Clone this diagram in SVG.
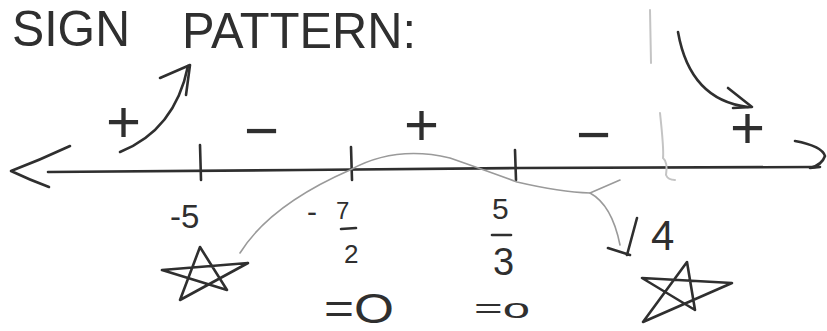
<svg xmlns="http://www.w3.org/2000/svg" width="827" height="331" viewBox="0 0 827 331">
<style>
.pen{fill:none;stroke:#2f2f2f;stroke-width:2.6;stroke-linecap:round;stroke-linejoin:round}
.pencil{fill:none;stroke:#9a9a9a;stroke-width:1.6;stroke-linecap:round;stroke-linejoin:round}
.faint{fill:none;stroke:#c4c4c4;stroke-width:2;stroke-linecap:round}
.t{font-family:"Liberation Sans",Arial,sans-serif;fill:#2f2f2f}
</style>
<rect width="827" height="331" fill="#ffffff"/>
<g id="title">
<text class="t" x="12" y="46" font-size="50" textLength="118" lengthAdjust="spacingAndGlyphs">SIGN</text>
<text class="t" x="182" y="48" font-size="50" textLength="234" lengthAdjust="spacingAndGlyphs">PATTERN:</text>
</g>
<g id="number-line">
<path class="pen" d="M48,172 L300,170 L520,168 L815,167"/>
<path class="pen" d="M70,146 Q40,160 11,171 Q30,180 49,187"/>
<path class="pen" d="M795,141 Q822,146 825,156 Q822,165 810,168 L820,167"/>
<path class="pen" d="M200,145 L201,180"/>
<path class="pen" d="M351,147 L352,180"/>
<path class="pen" d="M515,150 L516,180"/>
<path class="faint" d="M660,113 Q664,150 663,158 Q668,162 666,175 Q668,180 675,180"/>
<path class="faint" d="M650,10 L651,63"/>
</g>
<g id="signs">
<text class="t" x="106" y="142" font-size="60">+</text>
<text class="t" x="244" y="151" font-size="60">−</text>
<text class="t" x="404" y="145" font-size="60">+</text>
<text class="t" x="576" y="155" font-size="60">−</text>
<text class="t" x="730" y="148" font-size="60">+</text>
</g>
<g id="labels">
<text class="t" x="170" y="228" font-size="33">-5</text>
<text class="t" x="307" y="222" font-size="30">-</text>
<text class="t" x="336" y="219" font-size="24">7</text>
<path class="pen" d="M341,229 L356,228"/>
<text class="t" x="344" y="263" font-size="26">2</text>
<text class="t" x="492" y="219" font-size="30">5</text>
<path class="pen" d="M492,235 L511,235"/>
<text class="t" x="493" y="275" font-size="38">3</text>
<text class="t" x="651" y="250" font-size="42">4</text>
<text class="t" x="324" y="323" font-size="42" textLength="70" lengthAdjust="spacingAndGlyphs">=O</text>
<text class="t" x="474" y="318" font-size="28" textLength="56" lengthAdjust="spacingAndGlyphs">=o</text>
</g>
<g id="stars">
<path class="pen" d="M180,300 L200,247 L227,290 L162,270 L248,263 Z"/>
<path class="pen" d="M643,322 L687,262 L695,310 L642,278 L732,283 Z"/>
</g>
<g id="connectors">
<path class="pen" d="M120,152 Q175,130 188,66"/>
<path class="pen" d="M160,78 L190,65 L186,95"/>
<path class="pen" d="M678,32 Q690,100 748,107"/>
<path class="pen" d="M728,88 L752,107 L733,108"/>
<path class="pencil" d="M240,253 Q270,205 350,170 Q395,145 450,158 Q490,172 517,182 Q560,192 590,193 Q612,205 620,245"/>
<path class="pencil" d="M590,193 L620,180"/>
<path class="pen" d="M608,248 L630,255 M637,218 L627,255"/>
</g>
</svg>
